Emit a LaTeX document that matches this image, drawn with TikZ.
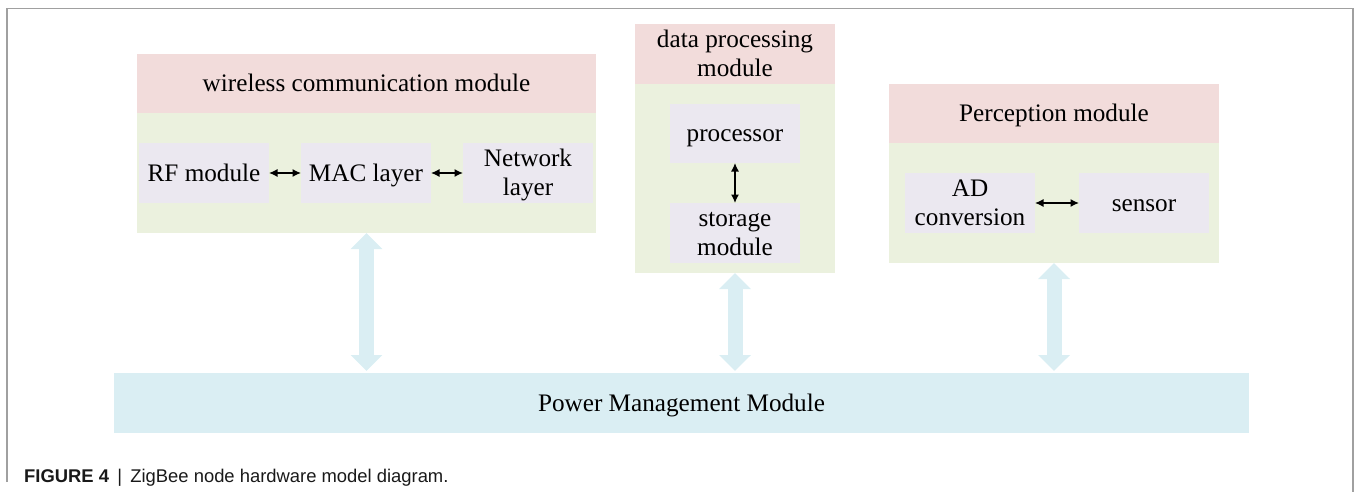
\documentclass[tikz,border=0pt]{standalone}
\usepackage{fontspec}
\setmainfont{Liberation Serif}
\newfontfamily\capfont{Liberation Sans}
\usetikzlibrary{arrows.meta,calc}
\definecolor{hdrpink}{HTML}{F2DCDB}
\definecolor{bodygreen}{HTML}{EBF1DE}
\definecolor{subbox}{HTML}{EBE8F0}
\definecolor{pwrblue}{HTML}{DAEEF3}
\definecolor{framegray}{HTML}{A0A0A0}
\newcommand{\lnstrut}{\rule[-0.22em]{0pt}{1.08em}}
\tikzset{
  blk/.style={inner sep=0pt, outer sep=0pt, align=center, font=\fontsize{25.2}{29.4}\selectfont},
  hdr/.style={blk, fill=hdrpink},
  body/.style={blk, fill=bodygreen},
  sub/.style={blk, fill=subbox, minimum width=130pt, minimum height=60pt},
  pwr/.style={blk, fill=pwrblue},
  smallarrow/.style={line width=1.3pt, {Latex[length=8.5pt,width=8pt]}-{Latex[length=8.5pt,width=8pt]}},
  bigarrow/.style={draw=pwrblue, line width=15pt, {Triangle[length=16pt,width=31pt]}-{Triangle[length=16pt,width=31pt]}},
}
\begin{document}
\begin{tikzpicture}[x=1pt,y=-1pt]
\useasboundingbox (0,0) rectangle (1356,492);
% frame
\draw[framegray, line width=1.5pt] (7,482) -- (7,8.5) -- (1353,8.5) -- (1353,492);
% wireless communication module
\node[hdr, minimum width=459pt, minimum height=59pt] (wh) at (366.5,83.5) {\lnstrut wireless communication module};
\node[body, minimum width=459pt, minimum height=120pt] (wb) at (366.5,173) {};
\node[sub] (rf) at (204,173) {\lnstrut RF module};
\node[sub] (mac) at (366,173) {\lnstrut MAC layer};
\node[sub] (net) at (528,173) {\lnstrut Network\\\lnstrut layer};
\draw[smallarrow] (rf) -- (mac);
\draw[smallarrow] (mac) -- (net);
% data processing module
\node[hdr, minimum width=200pt, minimum height=60pt] (dh) at (735,54) {\lnstrut data processing\\\lnstrut module};
\node[body, minimum width=200pt, minimum height=189pt] (db) at (735,178.5) {};
\node[sub, minimum height=59pt] (proc) at (735,133.5) {\lnstrut processor};
\node[sub] (stor) at (735,233) {\lnstrut storage\\\lnstrut module};
\draw[smallarrow] (proc) -- (stor);
% perception module
\node[hdr, minimum width=330pt, minimum height=59pt] (ph) at (1054,113.5) {\lnstrut Perception module};
\node[body, minimum width=330pt, minimum height=120pt] (pb) at (1054,203) {};
\node[sub] (ad) at (970,203) {\lnstrut AD\\\lnstrut conversion};
\node[sub] (sen) at (1144,203) {\lnstrut sensor};
\draw[smallarrow] (ad) -- (sen);
% power management module
\node[pwr, minimum width=1135pt, minimum height=60pt] (pw) at (681.5,403) {\lnstrut Power Management Module};
% big arrows
\draw[bigarrow] (wb.south) -- ($(wb.south |- pw.north)+(0,-2)$);
\draw[bigarrow] (db.south) -- ($(db.south |- pw.north)+(0,-2)$);
\draw[bigarrow] (pb.south) -- ($(pb.south |- pw.north)+(0,-2)$);
% caption
\node[anchor=base west, inner sep=0pt, font=\capfont\fontsize{18.4}{22}\selectfont, text=black!90] (cap) at (24,482)
  {\textbf{FIGURE 4}\hspace{0.45em}|\hspace{0.45em}ZigBee node hardware model diagram.};
\end{tikzpicture}
\end{document}
